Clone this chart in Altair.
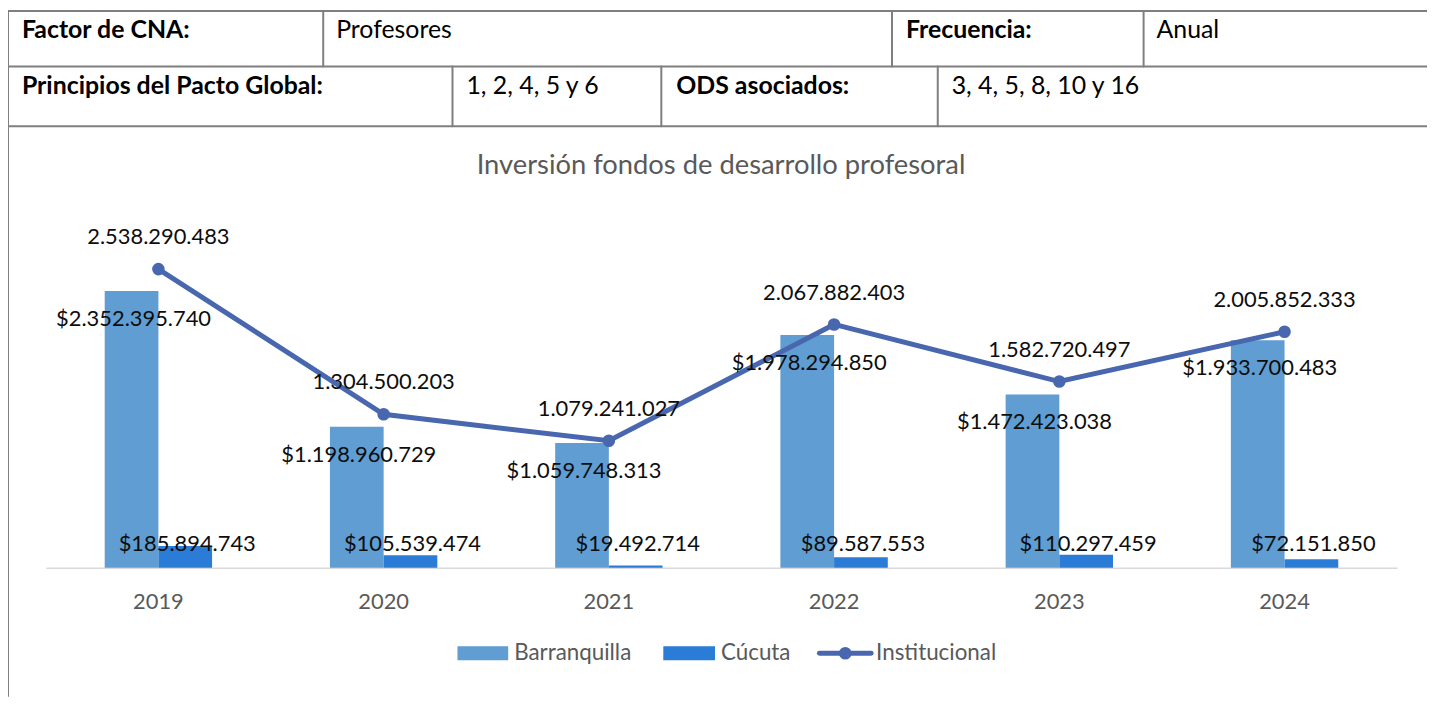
import altair as alt
import pandas as pd

# ---------------- data ----------------
years = ["2019", "2020", "2021", "2022", "2023", "2024"]
barranquilla = [2352395740, 1198960729, 1059748313, 1978294850, 1472423038, 1933700483]
cucuta = [185894743, 105539474, 19492714, 89587553, 110297459, 72151850]
institucional = [2538290483, 1304500203, 1079241027, 2067882403, 1582720497, 2005852333]
series_names = ["Barranquilla", "Cúcuta", "Institucional"]

title_text = "Inversión fondos de desarrollo profesoral"
table_row1 = ["Factor de CNA:", "Profesores", "Frecuencia:", "Anual"]
table_row2 = ["Principios del Pacto Global:", "1, 2, 4, 5 y 6", "ODS asociados:", "3, 4, 5, 8, 10 y 16"]

# ---------------- layout (page pixels) ----------------
FONT = "Lato"
CHART_W, CHART_H = 1427, 690
PLOT_L, PLOT_T, PLOT_W, PLOT_H = 38, 206, 1359, 355
C_BAR1, C_BAR2, C_LINE = "#5F9DD3", "#2B7CD6", "#4867AE"
BORDER = "#7F7F7F"
GRAY = "#595959"
LBL = 22


def px(xp):
    return xp - 8 - PLOT_L


def py(yp):
    return yp - 8 - PLOT_T


def fmt(v):
    return f"{v:,}".replace(",", ".")


bars_df = pd.DataFrame({
    "year": years * 2,
    "serie": [series_names[0]] * len(years) + [series_names[1]] * len(years),
    "valor": barranquilla + cucuta,
})
bars_df["label"] = "$" + bars_df["valor"].map(fmt)
bars_df["zero"] = 0
line_df = pd.DataFrame({"year": years, "valor": institucional})
line_df["label"] = line_df["valor"].map(fmt)

x_scale = alt.Scale(paddingInner=0.5232, paddingOuter=0.2616)
x_enc = alt.X(
    "year:N", sort=years, scale=x_scale,
    axis=alt.Axis(title=None, labelFont=FONT, labelFontSize=22, labelColor=GRAY,
                  labelPadding=24, ticks=False, domainColor="#D9D9D9",
                  domainWidth=1.5, labelAngle=0, grid=False),
)
x_na = alt.X("year:N", sort=years, scale=x_scale, axis=None)
y_scale = alt.Scale(domain=[0, 3e9], nice=False, zero=True)
y_enc = alt.Y("valor:Q", scale=y_scale, axis=None)
xoff = alt.XOffset("serie:N", sort=series_names[:2], scale=alt.Scale(paddingInner=0, paddingOuter=0))

bars = alt.Chart(bars_df).mark_bar().encode(
    x=x_enc, xOffset=xoff, y=y_enc,
    color=alt.Color("serie:N", scale=alt.Scale(domain=series_names[:2], range=[C_BAR1, C_BAR2]), legend=None),
)

line = alt.Chart(line_df).mark_line(color=C_LINE, strokeWidth=5).encode(x=x_na, y=y_enc)
pts = alt.Chart(line_df).mark_circle(color=C_LINE, size=160, opacity=1).encode(x=x_na, y=y_enc)

lbl_b = alt.Chart(bars_df).transform_filter(alt.datum.serie == series_names[0]).mark_text(
    font=FONT, fontSize=LBL, color="#0D0D0D", dy=28, dx=2, baseline="middle"
).encode(x=x_na, xOffset=xoff, y=y_enc, text="label:N")

lbl_c = alt.Chart(bars_df).transform_filter(alt.datum.serie == series_names[1]).mark_text(
    font=FONT, fontSize=LBL, color="#0D0D0D", dy=-24, dx=2, baseline="middle"
).encode(x=x_na, xOffset=xoff, y=alt.Y("zero:Q", scale=y_scale, axis=None), text="label:N")

lbl_l = alt.Chart(line_df).mark_text(
    font=FONT, fontSize=LBL, color="#0D0D0D", dy=-32, baseline="middle"
).encode(x=x_na, y=y_enc, text="label:N")

# ---------------- decorations: table, title, legend (pixel positions) ----------------
rules = []


def hrule(y, x1, x2, color=BORDER, w=2):
    rules.append({"x": px(x1), "x2": px(x2), "y": py(y), "y2": py(y), "c": color, "w": w})


def vrule(x, y1, y2):
    rules.append({"x": px(x), "x2": px(x), "y": py(y1), "y2": py(y2), "c": BORDER, "w": 2})


hrule(9, 8, 1436)
hrule(65, 8, 1436)
hrule(125, 8, 1436)
vrule(8, 9, 698)
for cx in [325, 897, 1150]:
    vrule(cx, 9, 65)
for cx in [455, 665, 943]:
    vrule(cx, 65, 125)
hrule(655, 824, 876, C_LINE, 5)

rules_df = pd.DataFrame(rules)
rule_layer = alt.Chart(rules_df).mark_rule(strokeCap="round").encode(
    x=alt.X("x:Q", scale=None), x2="x2:Q",
    y=alt.Y("y:Q", scale=None), y2="y2:Q",
    color=alt.Color("c:N", scale=None),
    strokeWidth=alt.StrokeWidth("w:Q", scale=None),
)

texts = []


def text(x, y, s, bold=False, size=25, color="#000000", align="left"):
    texts.append({"x": px(x), "y": py(y), "t": s, "b": bold, "s": size, "c": color, "a": align})


for s, x, b in zip(table_row1, [22, 338, 911, 1163], [True, False, True, False]):
    text(x, 28, s, bold=b)
for s, x, b in zip(table_row2, [22, 469, 680, 957], [True, False, True, False]):
    text(x, 85, s, bold=b)
text(517, 655, series_names[0], color=GRAY, size=22.5)
text(725, 655, series_names[1], color=GRAY, size=22.5)
text(881, 655, series_names[2], color=GRAY, size=22.5)
texts_df = pd.DataFrame(texts)

text_enc = dict(
    x=alt.X("x:Q", scale=None), y=alt.Y("y:Q", scale=None), text="t:N",
    color=alt.Color("c:N", scale=None), size=alt.Size("s:Q", scale=None),
)
text_norm = alt.Chart(texts_df).transform_filter("!datum.b").mark_text(
    font=FONT, align="left", baseline="middle").encode(**text_enc)
text_bold = alt.Chart(texts_df).transform_filter("datum.b").mark_text(
    font=FONT, align="left", baseline="middle", fontWeight="bold").encode(**text_enc)

title_df = pd.DataFrame({"x": [px(725)], "y": [py(165)], "t": [title_text]})
title_layer = alt.Chart(title_df).mark_text(
    font=FONT, fontSize=27.5, color=GRAY, align="center", baseline="middle"
).encode(x=alt.X("x:Q", scale=None), y=alt.Y("y:Q", scale=None), text="t:N")

leg_df = pd.DataFrame({
    "x": [px(460), px(667)], "x2": [px(511), px(719)],
    "y": [py(648), py(648)], "y2": [py(662), py(662)], "c": [C_BAR1, C_BAR2],
})
leg_rects = alt.Chart(leg_df).mark_rect().encode(
    x=alt.X("x:Q", scale=None), x2="x2:Q", y=alt.Y("y:Q", scale=None), y2="y2:Q",
    color=alt.Color("c:N", scale=None),
)
leg_pt_df = pd.DataFrame({"x": [px(850)], "y": [py(655)]})
leg_pt = alt.Chart(leg_pt_df).mark_circle(color=C_LINE, size=160, opacity=1).encode(
    x=alt.X("x:Q", scale=None), y=alt.Y("y:Q", scale=None))

chart = alt.layer(
    bars, line, pts, lbl_b, lbl_c, lbl_l,
    rule_layer, text_norm, text_bold, title_layer, leg_rects, leg_pt,
).resolve_scale(x="independent", y="independent").properties(
    width=PLOT_W, height=PLOT_H,
    autosize=alt.AutoSizeParams(type="none"),
    padding={"left": PLOT_L, "top": PLOT_T, "right": CHART_W - PLOT_L - PLOT_W,
             "bottom": CHART_H - PLOT_T - PLOT_H},
).configure(background="#FFFFFF").configure_view(stroke=None)

chart.save("out.html", embed_options={"renderer": "svg", "actions": False})
